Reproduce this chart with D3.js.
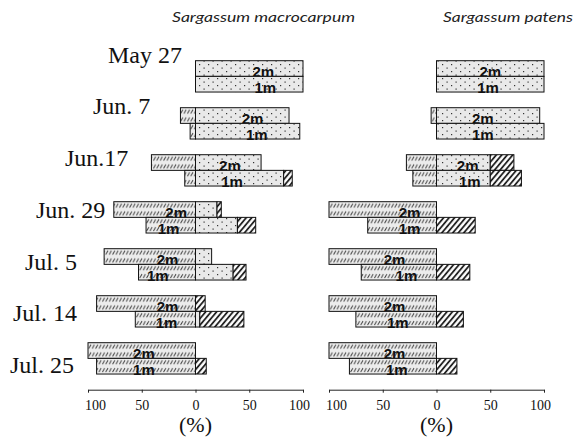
<!DOCTYPE html>
<html>
<head>
<meta charset="utf-8">
<script src="https://cdn.jsdelivr.net/npm/d3@7/dist/d3.min.js"></script>
<style>
  html, body { margin: 0; padding: 0; background: #fff; }
  svg { display: block; }
</style>
</head>
<body>
<svg id="chart" width="583" height="439"></svg>
<script>
// Sampling dates (rows, top to bottom)
const dates = ["May 27", "Jun. 7", "Jun.17", "Jun. 29", "Jul. 5", "Jul. 14", "Jul. 25"];
const depths = ["2m", "1m"];
const tickValues = [-100, -50, 0, 50, 100];

// Sargassum macrocarpum, % per category (left = drawn toward negative side)
const macro2mLeft   = [0, 14, 41, 76, 85, 92, 100];
const macro2mDotted = [100, 87, 61, 20, 15, 0, 0];
const macro2mHatch  = [0, 0, 0, 4, 0, 9, 0];
const macro1mLeft   = [0, 5, 10, 46, 53, 56, 92];
const macro1mDotted = [100, 97, 82, 39, 35, 4, 0];
const macro1mHatch  = [0, 0, 8, 17, 12, 41, 10];

// Sargassum patens
const patens2mLeft   = [0, 5, 28, 100, 100, 100, 100];
const patens2mDotted = [100, 96, 50, 0, 0, 0, 0];
const patens2mHatch  = [0, 0, 22, 0, 0, 0, 0];
const patens1mLeft   = [0, 0, 22, 64, 70, 75, 81];
const patens1mDotted = [100, 100, 50, 0, 0, 0, 0];
const patens1mHatch  = [0, 0, 29, 36, 31, 25, 19];

// Where the depth tags sit, in axis units (%)
const macro2mTagAt  = [63, 53, 32, -18, -26, -26, -48];
const macro1mTagAt  = [65, 57, 34, -25, -35, -27, -48];
const patens2mTagAt = [50, 43, 29, -25, -39, -39, -39];
const patens1mTagAt = [48, 43, 31, -25, -28, -36, -37];

const panels = [
  { title: "Sargassum macrocarpum", range: [88, 303], titleX: 172, titleW: 183,
    series: {
      "2m": { left: macro2mLeft, dotted: macro2mDotted, hatch: macro2mHatch, tag: macro2mTagAt },
      "1m": { left: macro1mLeft, dotted: macro1mDotted, hatch: macro1mHatch, tag: macro1mTagAt } } },
  { title: "Sargassum patens", range: [329, 544], titleX: 443, titleW: 130,
    series: {
      "2m": { left: patens2mLeft, dotted: patens2mDotted, hatch: patens2mHatch, tag: patens2mTagAt },
      "1m": { left: patens1mLeft, dotted: patens1mDotted, hatch: patens1mHatch, tag: patens1mTagAt } } }
];

const svg = d3.select("#chart");
const rowStep = 47, top0 = 60.7;
const barH = rowStep / 3;

// ---- fill patterns ----
const defs = svg.append("defs");
const yOff = top0 % (barH / 2);

const sparse = defs.append("pattern").attr("id", "sparse")
  .attr("patternUnits", "userSpaceOnUse")
  .attr("width", 3.4).attr("height", barH / 2).attr("y", yOff);
sparse.append("rect").attr("width", 3.4).attr("height", barH / 2).attr("fill", "#ececec");
sparse.append("path").attr("d", `M0.4,${barH / 2 - 2} L2.6,2`)
  .attr("stroke", "#333").attr("stroke-width", 0.9);

const dotted = defs.append("pattern").attr("id", "dotted")
  .attr("patternUnits", "userSpaceOnUse")
  .attr("width", 9).attr("height", 7);
dotted.append("rect").attr("width", 9).attr("height", 7).attr("fill", "#e9e9e9");
dotted.append("rect").attr("x", 1).attr("y", 1).attr("width", 1.2).attr("height", 1.2).attr("fill", "#333");
dotted.append("rect").attr("x", 5.5).attr("y", 4.5).attr("width", 1.2).attr("height", 1.2).attr("fill", "#333");

const dense = defs.append("pattern").attr("id", "dense")
  .attr("patternUnits", "userSpaceOnUse")
  .attr("width", 4.2).attr("height", 4.2)
  .attr("patternTransform", "rotate(40)");
dense.append("rect").attr("width", 4.2).attr("height", 4.2).attr("fill", "#fff");
dense.append("line").attr("x1", 1).attr("x2", 1).attr("y1", 0).attr("y2", 4.2)
  .attr("stroke", "#111").attr("stroke-width", 1.7);

// ---- vertical scales ----
const rowScale = d3.scaleBand().domain(dates).range([top0, top0 + rowStep * dates.length]);
const depthScale = d3.scaleBand().domain(depths).range([0, 2 * barH]);
const axisY = top0 + rowStep * dates.length;

// ---- date labels ----
const dateLabelX = [108, 93, 65, 36, 25, 13, 10];
const labelBase = d3.scalePoint().domain(dates).range([62.7, 372.9]);
svg.append("g").selectAll("text").data(dates).join("text")
  .attr("x", (d, i) => dateLabelX[i])
  .attr("y", d => labelBase(d))
  .attr("font-family", "Liberation Serif, Times New Roman, serif")
  .attr("font-size", 24)
  .attr("fill", "#111")
  .text(d => d);

panels.forEach(p => {
  const x = d3.scaleLinear().domain([-100, 100]).range(p.range);
  const g = svg.append("g");

  // title
  g.append("text")
    .attr("x", p.titleX).attr("y", 22)
    .attr("font-family", "Lato, Open Sans, sans-serif")
    .attr("font-style", "italic")
    .attr("font-size", 13)
    .attr("textLength", p.titleW).attr("lengthAdjust", "spacingAndGlyphs")
    .attr("fill", "#222")
    .text(p.title);

  depths.forEach(dep => {
    const s = p.series[dep];
    dates.forEach((dt, i) => {
      const y0 = rowScale(dt) + depthScale(dep);
      const segs = [
        { a: -s.left[i], b: 0, fill: "url(#sparse)" },
        { a: 0, b: s.dotted[i], fill: "url(#dotted)" },
        { a: s.dotted[i], b: s.dotted[i] + s.hatch[i], fill: "url(#dense)" }
      ].filter(d => d.b - d.a > 0);
      g.append("g").selectAll("rect").data(segs).join("rect")
        .attr("x", d => x(d.a))
        .attr("y", y0)
        .attr("width", d => x(d.b) - x(d.a))
        .attr("height", barH)
        .attr("fill", d => d.fill)
        .attr("stroke", "#111")
        .attr("stroke-width", 1);
      g.append("text")
        .attr("x", x(s.tag[i]))
        .attr("y", y0 + barH + 1)
        .attr("text-anchor", "middle")
        .attr("font-family", "Liberation Sans, Arial, sans-serif")
        .attr("font-weight", "bold")
        .attr("font-size", 15)
        .attr("fill", "#111")
        .text(dep);
    });
  });

  // axis
  const ax = g.append("g").attr("transform", `translate(0,${axisY})`)
    .call(d3.axisBottom(x).tickValues(tickValues).tickSize(3).tickSizeOuter(0)
      .tickFormat(v => Math.abs(v)));
  ax.select(".domain").attr("stroke", "#222");
  ax.selectAll(".tick line").attr("stroke", "#222");
  ax.selectAll(".tick text")
    .attr("y", 20).attr("dy", 0)
    .attr("dx", v => v === -100 ? 7 : (v === 100 ? -4 : 0))
    .attr("font-family", "Liberation Serif, Times New Roman, serif")
    .attr("font-size", 14)
    .attr("fill", "#111");

  g.append("text")
    .attr("x", x(0)).attr("y", 432)
    .attr("text-anchor", "middle")
    .attr("font-family", "Liberation Serif, Times New Roman, serif")
    .attr("font-size", 22)
    .attr("fill", "#111")
    .text("(%)");
});
</script>
</body>
</html>
